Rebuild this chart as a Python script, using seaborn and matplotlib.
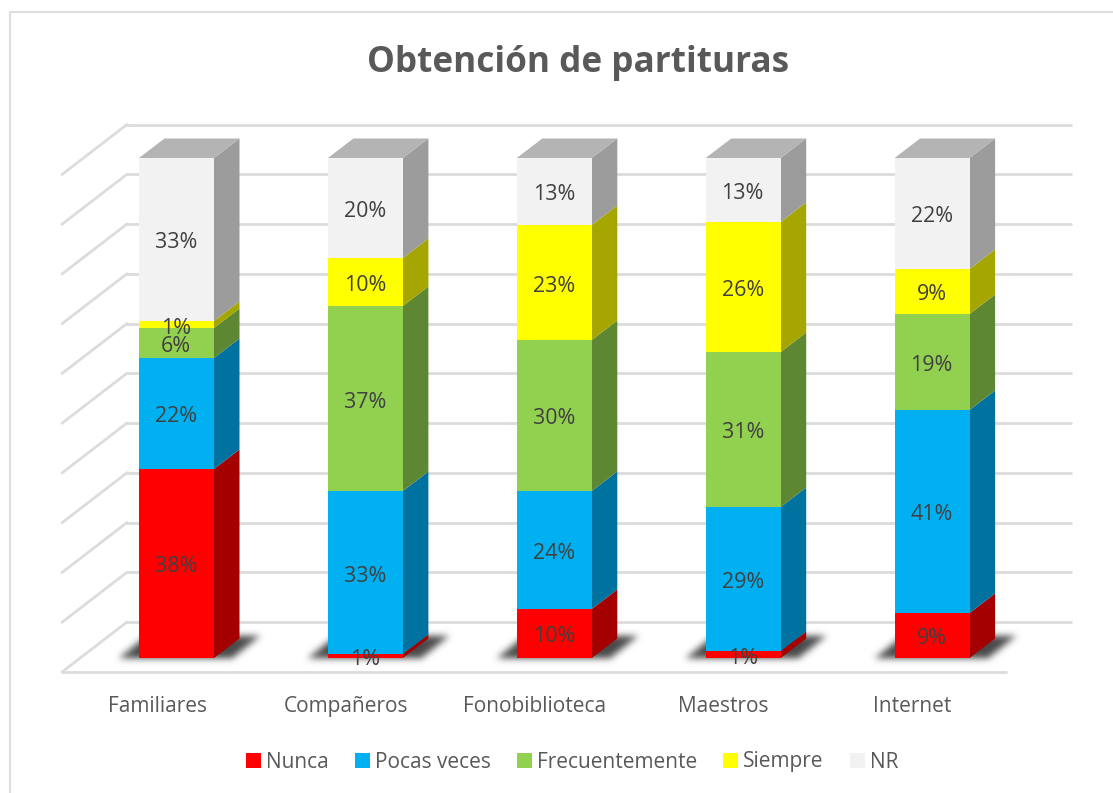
import numpy as np
import pandas as pd
import matplotlib
matplotlib.use("Agg")
import matplotlib.pyplot as plt
from matplotlib.lines import Line2D
from matplotlib.patches import Patch
import seaborn as sns

categories = ["Familiares", "Compañeros", "Fonobiblioteca", "Maestros", "Internet"]
series = ["Nunca", "Pocas veces", "Frecuentemente", "Siempre", "NR"]
nunca = [37.8, 0.8, 9.8, 1.4, 9.0]
pocas = [22.2, 32.6, 23.6, 28.8, 40.6]
frecuente = [6.0, 37.0, 30.2, 31.0, 19.2]
siempre = [1.4, 9.6, 23.0, 26.0, 9.0]
nr = [32.6, 20.0, 13.4, 12.8, 22.2]
gridticks = [0, 10, 20, 30, 40, 50, 60, 70, 80, 90, 100]

front = ["#ff0000", "#00b0f0", "#92d050", "#ffff00", "#f2f2f2"]
side = ["#a50000", "#0072a0", "#5e8734", "#a6a600", "#9c9c9c"]
top_color = "#b4b4b4"
GRID = "#dcdcdc"
FONT = "Open Sans"

W, H = 1113, 793
sns.set_theme(style="white")
plt.rcParams["font.family"] = [FONT, "DejaVu Sans"]
fig = plt.figure(figsize=(W / 100, H / 100), dpi=100, facecolor="white")
ax = fig.add_axes([0, (H - 672) / H, 1, (672 - 100) / H])
ax.set_facecolor("none")

PX_CAT = 188.9
PX_PCT = 5.0
X0 = 176.5
BASE = 658.0
BAR_W = 75 / PX_CAT
DX, DY = 25.5 / PX_CAT, 19.5 / PX_PCT
WX, WY = 65 / PX_CAT, 50 / PX_PCT
ORG_X = (62 - X0) / PX_CAT
END_X = (1006 - X0) / PX_CAT
ORG_Y = -14 / PX_PCT
GRID_SCALE = 0.995

df = pd.DataFrame(dict(zip(series, [nunca, pocas, frecuente, siempre, nr])), index=categories)
cum = df.cumsum(axis=1)


def shadow_image(sigma=3.5):
    """Soft parallelogram on a 1px grid, with x measured from the bar's left edge
    and y measured upward from the bar's base."""
    xg = np.arange(-50.0, 150.0)
    yg = np.arange(30.0, -13.0, -1.0)
    xx, yy = np.meshgrid(xg, yg)
    h = 22.0
    frac = yy / h
    left = -20 + 27 * frac
    right = 93 + 27 * frac
    mask = ((yy >= 0) & (yy <= h) & (xx >= left) & (xx <= right)).astype(float)
    kx = np.arange(-12, 13)
    kern = np.exp(-kx ** 2 / (2 * sigma ** 2))
    kern /= kern.sum()
    mask = np.apply_along_axis(lambda v: np.convolve(v, kern, mode="same"), 0, mask)
    mask = np.apply_along_axis(lambda v: np.convolve(v, kern, mode="same"), 1, mask)
    rgba = np.zeros(mask.shape + (4,))
    rgba[..., :3] = 0.22
    rgba[..., 3] = mask * 0.92
    return rgba, xg, yg


shadow, xg, yg = shadow_image()

for t in gridticks:
    y = ORG_Y + t * GRID_SCALE
    if t == 0:
        ax.plot([ORG_X, END_X], [y, y], color=GRID, lw=2, zorder=1, clip_on=False)
    ax.plot([ORG_X, ORG_X + WX], [y, y + WY], color=GRID, lw=2, zorder=1, clip_on=False)
    ax.plot([ORG_X + WX, END_X + WX], [y + WY, y + WY], color=GRID, lw=2, zorder=1, clip_on=False)

for k in range(len(series) - 1, -1, -1):
    sns.barplot(x=categories, y=cum[series[k]].values, color=front[k], saturation=1,
                width=BAR_W, ax=ax, zorder=5, linewidth=0, errorbar=None)

for i, cat in enumerate(categories):
    l, r = i - BAR_W / 2, i + BAR_W / 2
    ax.imshow(shadow, aspect="auto", zorder=2, interpolation="bilinear",
              extent=(l + xg[0] / PX_CAT, l + xg[-1] / PX_CAT, yg[-1] / PX_PCT, yg[0] / PX_PCT))
    prev = 0.0
    for k, s in enumerate(series):
        cur = cum.loc[cat, s]
        ax.fill([r, r + DX, r + DX, r], [prev, prev + DY, cur + DY, cur],
                color=side[k], lw=0, zorder=4)
        ax.text(i - 0.5 / PX_CAT, (prev + cur) / 2 - 0.7, f"{df.loc[cat, s]:.0f}%", ha="center", va="center",
                fontsize=15.4, color="#404040", zorder=6)
        prev = cur
    ax.fill([l, r, r + DX, l + DX], [prev, prev, prev + DY, prev + DY],
            color=top_color, lw=0, zorder=4)

ax.set_xlim((0 - X0) / PX_CAT, (W - X0) / PX_CAT)
ax.set_ylim(ORG_Y, (BASE - 100) / PX_PCT)
sns.despine(ax=ax, left=True, bottom=True)
ax.set_yticks([])
ax.set_ylabel("")
ax.set_xticks(np.arange(len(categories)) - 19.5 / PX_CAT, labels=categories)
ax.tick_params(axis="x", length=0, pad=17, labelsize=15, labelcolor="#595959")

fig.text(578 / W, 1 - 63 / H, "Obtención de partituras", ha="center", va="center",
         fontsize=25.3, fontweight="bold", color="#595959")

handles = [Patch(facecolor=c, edgecolor="none", label=s) for c, s in zip(front, series)]
fig.legend(handles=handles, loc="center", bbox_to_anchor=(572 / W, 1 - 762 / H), ncol=5,
           frameon=False, fontsize=15, labelcolor="#595959", handlelength=0.72, handleheight=0.72,
           handletextpad=0.25, columnspacing=1.25)

fig.add_artist(Line2D([10 / W, 10 / W, 1], [0, 1 - 12 / H, 1 - 12 / H],
                      transform=fig.transFigure, color="#dedede", lw=1.5))

fig.savefig("out.png", dpi=100, facecolor="white")
